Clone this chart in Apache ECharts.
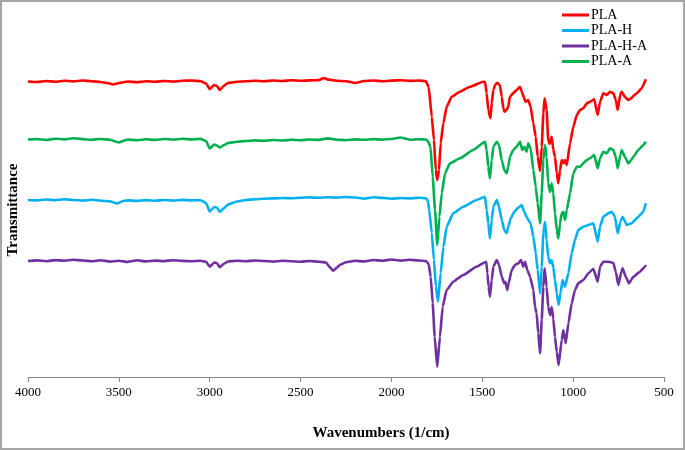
<!DOCTYPE html>
<html>
<head>
<meta charset="utf-8">
<script src="https://cdn.jsdelivr.net/npm/echarts@6/dist/echarts.min.js"></script>
<style>html,body{margin:0;padding:0;background:#fff}#c{width:685px;height:450px}</style>
</head>
<body>
<div id="c"></div>
<script>
// Wavenumber axis ticks
const xTicks = [4000, 3500, 3000, 2500, 2000, 1500, 1000, 500];
const seriesNames = ['PLA', 'PLA-H', 'PLA-H-A', 'PLA-A'];

// Transmittance (arbitrary units, spectra offset vertically) — [wavenumber, value]
const PLA = [
 [4000,295.5],[3950,295],[3900,296],[3850,295.2],[3800,296.3],[3750,295.6],[3700,296.5],[3650,295.8],[3600,295],[3550,293.5],[3530,292.5],[3500,294],[3450,295.5],[3400,294.8],[3350,295.8],[3300,295.2],[3250,296],[3200,295.4],[3150,296.2],[3100,296.5],[3050,295.7],[3020,293.5],[3000,288],[2975,292],[2960,291],[2945,287],[2920,291.5],[2900,294],[2850,295.2],[2800,295.8],[2750,296.3],[2700,295.7],[2650,296.5],[2600,296],[2550,296.8],[2500,296.2],[2450,296.6],[2400,296.9],[2370,299],[2350,297.5],[2320,296.8],[2300,296.2],[2250,295.8],[2200,294],[2150,296],[2100,296.5],[2050,295.7],[2000,296.4],[1950,296.8],[1900,296.1],[1850,296.5],[1810,295.8],
 [1795,290],[1778,260.3],[1766,237],[1756,207],[1748,197],[1738,207],[1729,234],[1714,254],[1696,270.3],[1668,280.3],[1623,285.3],[1568,290.3],[1494,295.3],[1485,295.3],[1476,284],[1467,267],[1455,258.7],[1448,274],[1439,287],[1430,292],[1418,294.3],[1403,292],[1393,280.3],[1384,268.7],[1378,265.3],[1366,267],[1357,270.3],[1348,280.3],[1329,284],[1311,287],[1292,290.3],[1283,285.3],[1269,278.7],[1262,275.3],[1247,277],[1234,270.3],[1219,253.7],[1206,240.3],[1195,220.3],[1182,206],[1173,230.3],[1164,263.7],[1157,278.7],[1146,267],[1137,237],[1130,233],[1118,240.3],[1109,227],[1100,220.3],[1090,203.7],[1082,193.7],[1072,207],[1063,217],[1054,213.7],[1045,217],[1035,212],[1017,233.7],[999,250.3],[980,262],[962,267],[944,268.7],[925,273.7],[907,275.3],[884,277.7],[865,262],[852,275.3],[834,283.7],[815,282],[797,285.3],[779,283.7],[765,277],[755,267],[740,283],[733,285.3],[715,280],[696,277],[680,278.7],[669,281],[650,283.7],[623,288.7],[600,297.7]
];
const PLA_H = [
 [4000,177],[3950,176.6],[3900,177.5],[3850,176.8],[3800,177.7],[3750,177],[3700,176.4],[3650,177.2],[3600,176.3],[3550,175.8],[3510,173.5],[3480,175.8],[3450,176.6],[3400,176.1],[3350,176.9],[3300,176.2],[3250,177],[3200,176.4],[3150,177.1],[3100,176.6],[3050,176.8],[3020,174],[3000,165.5],[2975,170],[2960,169.5],[2945,165],[2920,169],[2900,172.5],[2850,175.5],[2800,177],[2750,177.8],[2700,178.3],[2650,178.6],[2600,179],[2550,178.7],[2500,179.3],[2450,179.6],[2400,179.2],[2350,179.8],[2300,179.4],[2250,180],[2200,179.5],[2150,178.4],[2100,179.7],[2050,179.1],[2000,178.3],[1950,179],[1900,178.6],[1850,179.2],[1810,178.8],
 [1800,176.5],[1792,167],[1778,144],[1766,117],[1755,90.3],[1744,75.3],[1729,104],[1714,130.3],[1696,150.3],[1660,163.7],[1605,170.3],[1532,177],[1485,180.3],[1476,167],[1467,153.7],[1458,138.7],[1448,157],[1439,170.3],[1420,177],[1408,170.3],[1393,157],[1379,147],[1366,143.7],[1357,150.3],[1343,158.7],[1324,165.3],[1306,168.7],[1283,172],[1269,165.3],[1256,160.3],[1247,157],[1234,153.7],[1219,140.3],[1206,123.7],[1195,107],[1182,83.7],[1173,110.3],[1164,143.7],[1155,155.3],[1146,137],[1137,120.3],[1127,113.7],[1118,117],[1109,110],[1100,97],[1090,83.7],[1080,72],[1070,83.7],[1058,97],[1045,90.3],[1026,103.7],[1008,123.7],[990,137],[972,147],[944,150.3],[916,152],[889,153.7],[865,135.3],[852,150.3],[834,160.3],[806,163.7],[788,165.3],[770,160.3],[755,143.7],[740,155],[728,160.3],[705,152],[678,153.7],[660,157],[641,160.3],[614,165.3],[600,173.7]
];
const PLA_H_A = [
 [4000,116],[3950,116.6],[3900,115.8],[3850,116.9],[3800,116.3],[3750,117.2],[3700,116.5],[3650,115.7],[3600,116.8],[3550,115.4],[3500,116.2],[3450,115.1],[3400,116.7],[3350,115.6],[3300,116.4],[3250,115.9],[3200,116.8],[3150,116.1],[3100,115.7],[3050,116.3],[3020,115.2],[3000,110.3],[2975,114.5],[2960,113.8],[2945,109.7],[2920,113.5],[2900,115.5],[2850,116.2],[2800,115.8],[2750,116.5],[2700,116],[2650,115.4],[2600,116.2],[2550,115.7],[2500,115.3],[2450,116],[2400,115.2],[2360,114.5],[2340,110],[2320,106.3],[2300,109.5],[2280,112.5],[2250,114.8],[2200,116.3],[2150,115.5],[2100,117],[2050,116.2],[2000,117.5],[1950,116.4],[1900,117.2],[1850,116.5],[1810,116],
 [1795,113],[1784,100.3],[1773,74],[1762,40.3],[1748,10.3],[1733,40.3],[1718,70.3],[1696,87],[1660,95.3],[1605,102],[1532,110.3],[1478,115.3],[1472,103.7],[1465,90.3],[1458,80.3],[1448,97],[1439,110.3],[1420,117],[1408,112],[1393,100.3],[1379,93.7],[1372,95],[1363,87],[1355,93.7],[1338,107],[1320,112],[1302,113.7],[1287,117],[1274,110.3],[1265,115.3],[1252,107],[1237,100.3],[1219,87],[1210,70.3],[1201,63.7],[1192,43.7],[1182,23.7],[1173,57],[1164,90.3],[1157,108.7],[1146,90.3],[1137,70],[1127,62],[1118,70],[1109,58],[1100,40],[1090,25],[1080,12],[1063,37],[1054,47],[1041,33.7],[1026,53.7],[1008,73.7],[990,87],[972,93.7],[944,97],[916,103.7],[889,108.3],[865,95.3],[852,110.3],[834,115.3],[806,115.3],[779,114],[765,105],[751,92],[735,105],[728,108.7],[710,100],[692,93.7],[669,100.3],[632,105.3],[605,110.3],[600,112]
];
const PLA_A = [
 [4000,237.5],[3950,237.9],[3900,237],[3850,238.3],[3800,237.6],[3750,238.8],[3700,237.9],[3650,237.2],[3600,238],[3550,237.3],[3500,234.5],[3470,236.5],[3450,237.4],[3400,236.8],[3350,237.7],[3300,237.1],[3250,238],[3200,237.4],[3150,238.2],[3100,237.6],[3050,238.1],[3020,236],[3000,228.5],[2975,232.5],[2960,231.5],[2945,229.5],[2920,232],[2900,234],[2850,235.3],[2800,236],[2750,236.6],[2700,236.2],[2650,237],[2600,236.5],[2550,237.2],[2500,236.8],[2450,237.5],[2400,237.1],[2350,238.6],[2300,237.3],[2250,236.9],[2200,237.6],[2150,237.2],[2100,237.9],[2050,237.4],[2000,238],[1950,239.5],[1900,237.3],[1850,237.8],[1810,237.5],
 [1800,236],[1785,230.3],[1773,200.3],[1760,167],[1748,132],[1736,160.3],[1723,183.7],[1705,203.7],[1678,213.7],[1623,218.7],[1550,227],[1485,235.3],[1476,227],[1467,210.3],[1458,198.7],[1448,217],[1439,230.3],[1420,235.3],[1408,232],[1393,217],[1379,207],[1366,203.7],[1357,210.3],[1348,220.3],[1329,227],[1311,230.3],[1292,235.3],[1280,227],[1269,230.3],[1256,225.3],[1247,233.7],[1234,228.7],[1219,207],[1206,190.3],[1195,173.7],[1182,153.7],[1173,183.7],[1164,217],[1155,232],[1146,220.3],[1137,193.7],[1127,185],[1118,193.7],[1109,183.7],[1100,163.7],[1090,147],[1082,138.7],[1072,153.7],[1063,163.7],[1054,165.3],[1045,157],[1035,167],[1017,183.7],[999,203.7],[980,210.3],[962,210.3],[944,213.7],[925,217],[907,218.7],[884,222],[865,208.7],[852,218.7],[834,225.3],[815,223.7],[797,228.7],[779,227],[765,220],[755,208.7],[740,222],[733,227],[715,220],[696,213.7],[680,217],[669,220.3],[641,227],[614,232],[600,235.3]
];

const colors = ['#ff0000', '#00b0f0', '#7030a0', '#00b050'];
const serif = '"Liberation Serif", "Times New Roman", serif';

const chart = echarts.init(document.getElementById('c'), null, {renderer: 'canvas'});
const dataList = [PLA, PLA_H, PLA_H_A, PLA_A];
chart.setOption({
  animation: false,
  backgroundColor: '#fff',
  color: colors,
  grid: {left: 28, right: 21, top: 20, bottom: 73, containLabel: false},
  legend: {
    data: seriesNames,
    orient: 'vertical',
    left: 557, top: 3,
    icon: 'rect',
    itemWidth: 27, itemHeight: 3,
    itemGap: 1.5,
    textStyle: {fontFamily: serif, fontSize: 14, color: '#000', lineHeight: 14, padding: [0,0,0,-3]}
  },
  xAxis: {
    type: 'value', inverse: true, min: 500, max: 4000, interval: 500,
    axisLine: {show: true, lineStyle: {color: '#868686', width: 1}},
    axisTick: {show: true, length: 5, lineStyle: {color: '#868686'}},
    axisLabel: {fontFamily: serif, fontSize: 13, color: '#000', margin: 9,
      formatter: v => xTicks.includes(v) ? String(v) : ''},
    splitLine: {show: false}
  },
  yAxis: {type: 'value', min: 0, max: 357, show: false},
  graphic: [
    {type: 'rect', shape: {x: 1, y: 1, width: 683, height: 448}, style: {fill: 'none', stroke: '#a6a6a6', lineWidth: 2}, silent: true},
    {type: 'text', x: 381, y: 433, style: {text: 'Wavenumbers (1/cm)', fontFamily: serif, fontWeight: 'bold', fontSize: 15, fill: '#000', align: 'center', verticalAlign: 'middle'}},
    {type: 'text', x: 13, y: 210, rotation: Math.PI / 2, style: {text: 'Transmittance', fontFamily: serif, fontWeight: 'bold', fontSize: 15, fill: '#000', align: 'center', verticalAlign: 'middle'}}
  ],
  series: seriesNames.map((n, i) => ({
    name: n, type: 'line', data: dataList[i], showSymbol: false, symbol: 'none',
    lineStyle: {width: 2.6, color: colors[i]}, itemStyle: {color: colors[i]},
    smooth: 0.15, smoothMonotone: 'x'
  }))
});
</script>
</body>
</html>
